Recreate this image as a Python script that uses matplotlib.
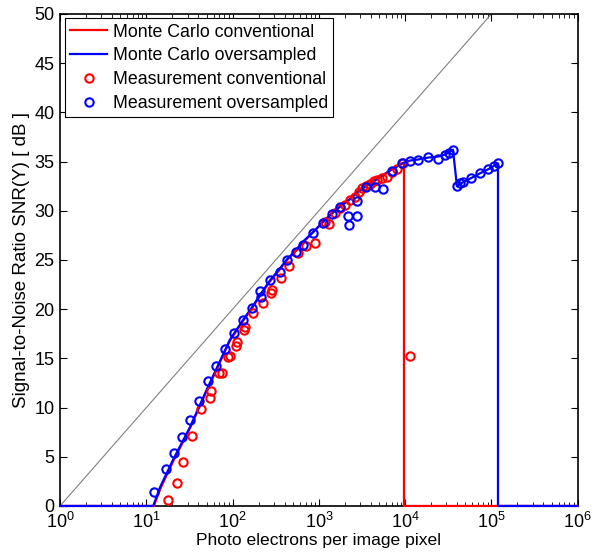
import matplotlib
matplotlib.use("Agg")
import matplotlib.pyplot as plt
from matplotlib.ticker import LogLocator, NullFormatter, MultipleLocator

plt.rcParams['font.family'] = ['Liberation Sans', 'DejaVu Sans']

# ideal shot-noise limit (thin gray line)
ideal_x = [1, 1e5]
ideal_y = [0, 50]

# Monte Carlo, oversampled
mc_over_x = [1, 12.0, 14.4, 20.4, 32, 50, 93, 132, 168, 210, 270, 350, 430, 540,
             660, 850, 1100, 1400, 1800, 2300, 2800, 3500, 4500, 5500, 7000, 9200,
             11400, 14000, 18400, 24000, 29000, 35800, 39800, 46800, 57800, 73600,
             91000, 119000, 119000, 1e6]
mc_over_y = [0, 0, 1.9, 4.7, 8.0, 11.8, 16.9, 18.9, 20.2, 21.5, 22.9, 24.1, 25.1, 26.0,
             26.9, 27.8, 28.8, 29.7, 30.5, 31.2, 31.9, 32.5, 33.1, 33.6, 34.2, 34.8,
             35.1, 35.2, 35.4, 35.5, 35.7, 36.2, 32.5, 32.9, 33.3, 33.8,
             34.2, 34.8, 0, 0]

# Monte Carlo, conventional
mc_conv_x = [1, 12.2, 14.6, 20.6, 32, 50, 93, 132, 168, 210, 270, 350, 430, 540,
             660, 850, 1100, 1400, 1800, 2300, 2800, 3500, 4500, 5500, 7000, 9680,
             9680, 1e6]
mc_conv_y = [0, 0, 1.8, 4.6, 7.9, 11.7, 16.8, 18.8, 20.1, 21.4, 22.8, 24.0, 25.0, 25.9,
             26.8, 27.8, 28.8, 29.7, 30.5, 31.2, 31.9, 32.5, 33.1, 33.6, 34.2, 34.9,
             0, 0]

# measurements, conventional
meas_conv_x = [17.8, 22.7, 26.6, 33.9, 43.0, 54.7, 56.2, 69.5, 75.4, 88.4, 93.3, 109, 112,
               136, 138, 172, 225, 279, 283, 364, 451, 573, 709, 901, 1178, 1300, 1537,
               1755, 2000, 2293, 2620, 2900, 3157, 3500, 3908, 4300, 4713, 5400, 6150,
               7000, 8035, 9440, 11370]
meas_conv_y = [0.6, 2.3, 4.5, 7.1, 9.9, 11.0, 11.7, 13.5, 13.5, 15.1, 15.2, 16.3, 16.7,
               17.9, 18.2, 19.6, 20.6, 21.6, 21.9, 23.2, 24.4, 25.7, 26.4, 26.7, 28.9, 28.7,
               29.8, 30.3, 30.6, 31.1, 31.4, 31.9, 32.3, 32.5, 32.7, 33.0, 33.1, 33.3, 33.4,
               33.9, 34.2, 34.9, 15.2]

# measurements, oversampled
meas_over_x = [12.3, 16.9, 20.9, 25.9, 32.1, 40.8, 51.9, 64.2, 81.6, 104, 132, 168, 208,
               213, 271, 354, 427, 543, 654, 855, 1116, 1420, 1755, 2173, 2762, 2233,
               2762, 3512, 4467, 5530, 7030, 9180, 11370, 14060, 18370, 23990, 28910,
               32500, 35780, 39820, 43500, 46760, 57820, 73560, 91030, 108000, 118900]
meas_over_y = [1.4, 3.8, 5.4, 7.0, 8.7, 10.7, 12.7, 14.2, 15.9, 17.6, 18.9, 20.1, 21.8,
               21.2, 23.0, 23.8, 25.0, 25.8, 26.5, 27.7, 28.8, 29.7, 30.4, 29.5, 29.5, 28.6,
               31.0, 32.4, 32.4, 32.2, 34.0, 34.8, 35.1, 35.2, 35.5, 35.3, 35.7,
               35.9, 36.2, 32.5, 32.8, 32.9, 33.3, 33.8, 34.2, 34.5, 34.8]

fig = plt.figure(figsize=(5.95, 5.56), dpi=100)
ax = fig.add_axes([0.101, 0.090, 0.870, 0.885])

ax.plot(ideal_x, ideal_y, color='#808080', lw=0.8)
l1, = ax.plot(mc_conv_x, mc_conv_y, color='red', lw=1.6, label='Monte Carlo conventional',
              clip_on=False, zorder=3)
l2, = ax.plot(mc_over_x, mc_over_y, color='blue', lw=1.6, label='Monte Carlo oversampled',
              clip_on=False, zorder=3)
m1, = ax.plot(meas_conv_x, meas_conv_y, 'o', mfc='none', mec='red', ms=6, mew=1.5,
              label='Measurement conventional', zorder=4)
m2, = ax.plot(meas_over_x, meas_over_y, 'o', mfc='none', mec='blue', ms=6, mew=1.5,
              label='Measurement oversampled', zorder=4)

ax.set_xscale('log')
ax.set_xlim(1, 1e6)
ax.set_ylim(0, 50)
ax.yaxis.set_major_locator(MultipleLocator(5))
ax.xaxis.set_major_locator(LogLocator(base=10, numticks=10))
ax.xaxis.set_minor_locator(LogLocator(base=10, subs=range(2, 10), numticks=10))
ax.xaxis.set_minor_formatter(NullFormatter())
ax.tick_params(which='both', direction='in', top=True, right=True, labelsize=13)
ax.tick_params(which='major', length=5, width=0.8, pad=4)
ax.tick_params(which='minor', length=3, width=0.6)
for s in ax.spines.values():
    s.set_linewidth(1.2)
    s.set_zorder(2.5)

ax.set_xlabel('Photo electrons per image pixel', fontsize=12.6, labelpad=1)
ax.set_ylabel('Signal-to-Noise Ratio SNR(Y) [ dB ]', fontsize=13.5, labelpad=3)

leg = ax.legend(handles=[l1, l2, m1, m2], loc='upper left', fontsize=12.8,
                fancybox=False, framealpha=1, edgecolor='black', borderaxespad=0.25,
                handlelength=2.1, handletextpad=0.3, labelspacing=0.38, borderpad=0.3)
leg.get_frame().set_linewidth(0.8)
leg.set_zorder(5)

fig.savefig('out.png', dpi=100)
